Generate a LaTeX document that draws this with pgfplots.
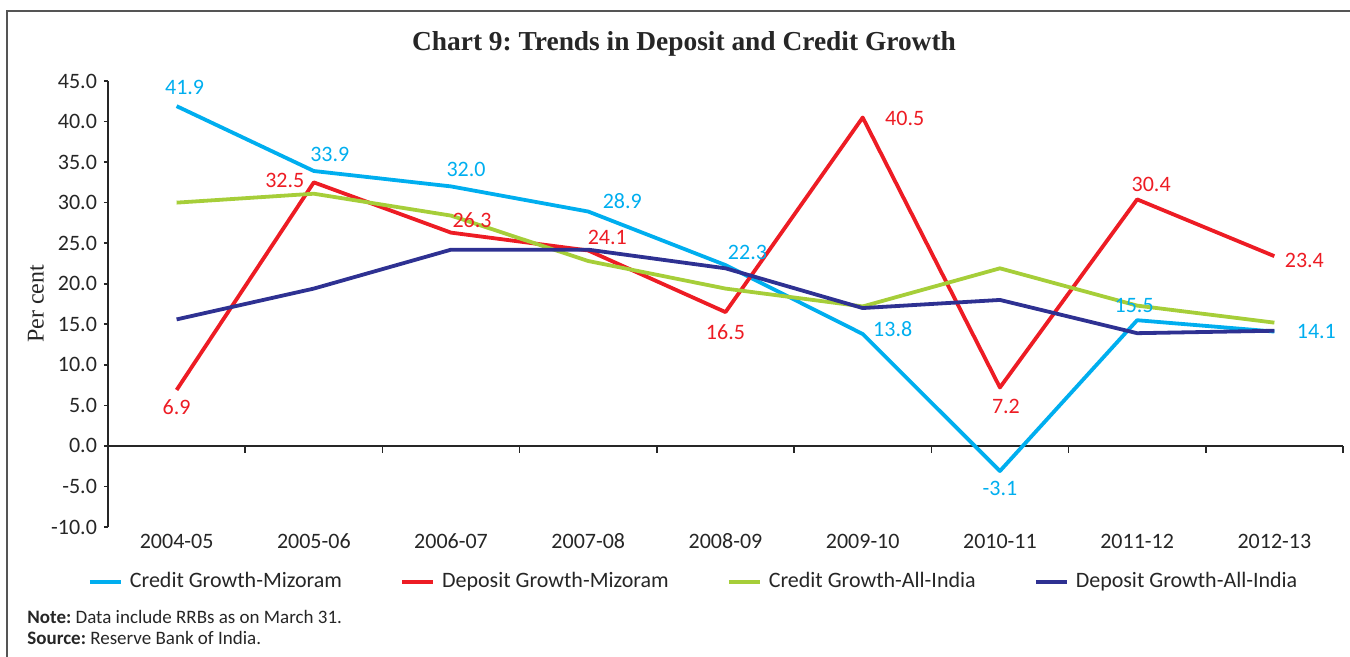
\documentclass[border=0pt]{standalone}
\usepackage{pgfplots}
\pgfplotsset{compat=1.18}
\usepackage{fontspec}
\setmainfont{Carlito}
\newfontfamily\titlefont{Liberation Serif}
\definecolor{ccyan}{HTML}{00AEEF}
\definecolor{cred}{HTML}{ED1C24}
\definecolor{cgreen}{HTML}{A6CE39}
\definecolor{cblue}{HTML}{2E3192}
\definecolor{frame}{HTML}{555555}
\begin{document}
\frenchspacing
\begin{tikzpicture}
\useasboundingbox (0,0) rectangle (675pt,328.5pt);
\draw[frame,line width=0.8pt] (3.5pt,0pt) -- (3.5pt,323pt) -- (675pt,323pt);
\node[font=\titlefont\bfseries\fontsize{13.7}{16}\selectfont,text=black!85] at (342pt,306.5pt) {Chart 9: Trends in Deposit and Credit Growth};
\node[anchor=west,inner sep=0pt,font=\fontsize{9.5}{11}\selectfont,text=black!85] at (13.5pt,20pt) {\textbf{Note:} Data include RRBs as on March 31.};
\node[anchor=west,inner sep=0pt,font=\fontsize{9.5}{11}\selectfont,text=black!85] at (13.5pt,9.5pt) {\textbf{Source:} Reserve Bank of India.};
\begin{axis}[
  at={(54pt,65pt)}, anchor=south west,
  scale only axis, width=617.5pt, height=223pt,
  xmin=-0.5, xmax=8.5, ymin=-10, ymax=45,
  axis lines*=left,
  x axis line style={draw=none},
  y axis line style={line width=0.9pt, black!85},
  xtick={0,...,8},
  xticklabels={2004-05,2005-06,2006-07,2007-08,2008-09,2009-10,2010-11,2011-12,2012-13},
  x tick style={draw=none},
  xticklabel style={anchor=center, text height=7.5pt, text depth=0pt, yshift=-5pt},
  ytick={-10,-5,...,45},
  y tick style={line width=0.8pt, black!85},
  tick align=outside, major tick length=2pt,
  /pgf/number format/assume math mode=true,
  yticklabel={\pgfmathprintnumber[fixed,fixed zerofill,precision=1]{\tick}},
  tick label style={font=\fontsize{11}{13}\selectfont, text=black!85},
  ylabel={\titlefont Per cent},
  ylabel style={at={(axis description cs:-0.0583,0.5)}, anchor=center, font=\fontsize{12}{14}\selectfont, text=black!85},
  clip=false,
  legend columns=4,
  legend cell align=left,
  legend style={at={(0.475,-0.123)}, anchor=center, draw=none, fill=none,
    font=\fontsize{11}{13}\selectfont, text=black!85,
    /tikz/every even column/.append style={column sep=27pt},
    /tikz/every odd column/.append style={column sep=1.5pt}},
  legend image code/.code={\draw[#1, line width=2pt] (0pt,0pt) -- (15.5pt,0pt);},
  every axis plot/.append style={line width=1.9pt, line join=round},
  nodes near coords,
  point meta=explicit symbolic,
  visualization depends on={\thisrow{dx} \as \dx},
  visualization depends on={\thisrow{dy} \as \dy},
  nodes near coords style={anchor=center, xshift=\dx pt, yshift=\dy pt, font=\fontsize{11}{13}\selectfont, inner sep=0pt},
]
\draw[line width=1pt, black!85] (axis cs:-0.5,0) -- (axis cs:8.5,0);
\pgfplotsinvokeforeach{0.5,1.5,2.5,3.5,4.5,5.5,6.5,7.5,8.5}{
  \draw[line width=0.8pt, black!85] (axis cs:#1,0) -- ++(0pt,-3.5pt);
}
\addplot[ccyan, nodes near coords style={text=ccyan}] table[x=x,y=y,meta=lab] {
x y dx dy lab
0 41.9 4 9.5 41.9
1 33.9 8 8.5 33.9
2 32.0 7.5 8.5 32.0
3 28.9 17 5 28.9
4 22.3 11 6.5 22.3
5 13.8 15 2.5 13.8
6 -3.1 0 -8.5 -3.1
7 15.5 -1.5 7.5 15.5
8 14.1 21 0 14.1
};
\addlegendentry{Credit Growth-Mizoram}
\addplot[cred, nodes near coords style={text=cred}] table[x=x,y=y,meta=lab] {
x y dx dy lab
0 6.9 0 -8.5 6.9
1 32.5 -14.5 1 32.5
2 26.3 10.5 6 26.3
3 24.1 9.5 6.5 24.1
4 16.5 0 -10 16.5
5 40.5 21 -0.5 40.5
6 7.2 3 -9.5 7.2
7 30.4 7 7.5 30.4
8 23.4 15 -2 23.4
};
\addlegendentry{Deposit Growth-Mizoram}
\addplot[cgreen, nodes near coords={}] table[x=x,y=y,meta=lab] {
x y dx dy lab
0 30.0 0 0 {}
1 31.1 0 0 {}
2 28.4 0 0 {}
3 22.8 0 0 {}
4 19.4 0 0 {}
5 17.2 0 0 {}
6 21.9 0 0 {}
7 17.3 0 0 {}
8 15.2 0 0 {}
};
\addlegendentry{Credit Growth-All-India}
\addplot[cblue, nodes near coords={}] table[x=x,y=y,meta=lab] {
x y dx dy lab
0 15.6 0 0 {}
1 19.4 0 0 {}
2 24.2 0 0 {}
3 24.2 0 0 {}
4 21.9 0 0 {}
5 17.0 0 0 {}
6 18.0 0 0 {}
7 13.9 0 0 {}
8 14.2 0 0 {}
};
\addlegendentry{Deposit Growth-All-India}
\end{axis}
\end{tikzpicture}
\end{document}
